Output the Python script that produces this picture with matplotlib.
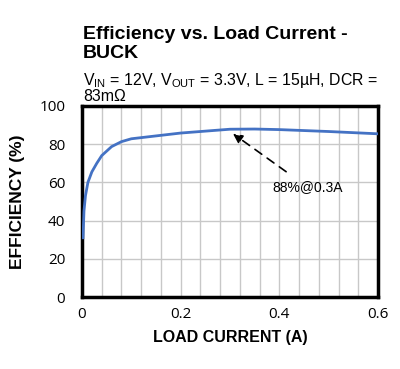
import numpy as np
import matplotlib
matplotlib.use('Agg')
import matplotlib.pyplot as plt
from matplotlib.ticker import MultipleLocator

# Efficiency curve.
load_a = [0.002, 0.004, 0.007, 0.012, 0.02, 0.03, 0.04, 0.06, 0.08, 0.1, 0.15, 0.2, 0.25, 0.3, 0.35, 0.4, 0.5, 0.6]
eff_pct = [31, 45, 53, 60, 65.5, 70, 74, 78.7, 81.3, 82.8, 84.3, 85.8, 86.8, 87.8, 87.9, 87.6, 86.6, 85.4]
x_ticks = [0, 0.2, 0.4, 0.6]
y_ticks = [0, 20, 40, 60, 80, 100]

plt.rcParams['font.family'] = ['Liberation Sans', 'DejaVu Sans']
plt.rcParams['mathtext.fontset'] = 'custom'
plt.rcParams['mathtext.rm'] = 'Liberation Sans'
plt.rcParams['mathtext.it'] = 'Liberation Sans'

fig = plt.figure(figsize=(4, 3.69), dpi=100)
ax = fig.add_axes([0.205, 0.195, 0.74, 0.518])

ax.plot(load_a, eff_pct, color='#4472C4', linewidth=2, zorder=3)

ax.set_xlim(0, 0.6)
ax.set_ylim(0, 100)
ax.set_xticks(x_ticks)
ax.set_xticklabels(['0', '0.2', '0.4', '0.6'])
ax.set_yticks(y_ticks)
ax.xaxis.set_minor_locator(MultipleLocator(0.04))
ax.grid(True, which='both', axis='x', color='#c8c8c8', linewidth=1)
ax.grid(True, which='major', axis='y', color='#c8c8c8', linewidth=1)
ax.tick_params(which='both', length=0, labelsize=11)
ax.tick_params(axis='y', pad=12)
ax.tick_params(axis='x', pad=7)
for lbl in ax.get_xticklabels() + ax.get_yticklabels():
    lbl.set_family('Open Sans')
for s in ax.spines.values():
    s.set_linewidth(2.5)
    s.set_color('black')

ax.set_xlabel('LOAD CURRENT (A)', fontsize=11.5, fontweight='bold', labelpad=6)
ax.set_ylabel('EFFICIENCY (%)', fontsize=12.5, fontweight='bold', labelpad=10)

ax.annotate('88%@0.3A', xy=(0.306, 85.5), xytext=(0.386, 57.5),
            fontsize=10, va='center', ha='left',
            arrowprops=dict(arrowstyle='-|>', linestyle=(0, (5, 4)), color='black',
                            linewidth=1.2, shrinkA=7, shrinkB=0, mutation_scale=14))

fig.text(0.208, 0.88, 'Efficiency vs. Load Current -\nBUCK', fontsize=14, fontweight='bold',
         va='center', ha='left', linespacing=1.18)
fig.text(0.208, 0.763, r'V$_{\mathrm{IN}}$ = 12V, V$_{\mathrm{OUT}}$ = 3.3V, L = 15µH, DCR =' + '\n83mΩ',
         fontsize=11.4, va='center', ha='left', linespacing=0.95)

fig.savefig('out.png', dpi=100)
